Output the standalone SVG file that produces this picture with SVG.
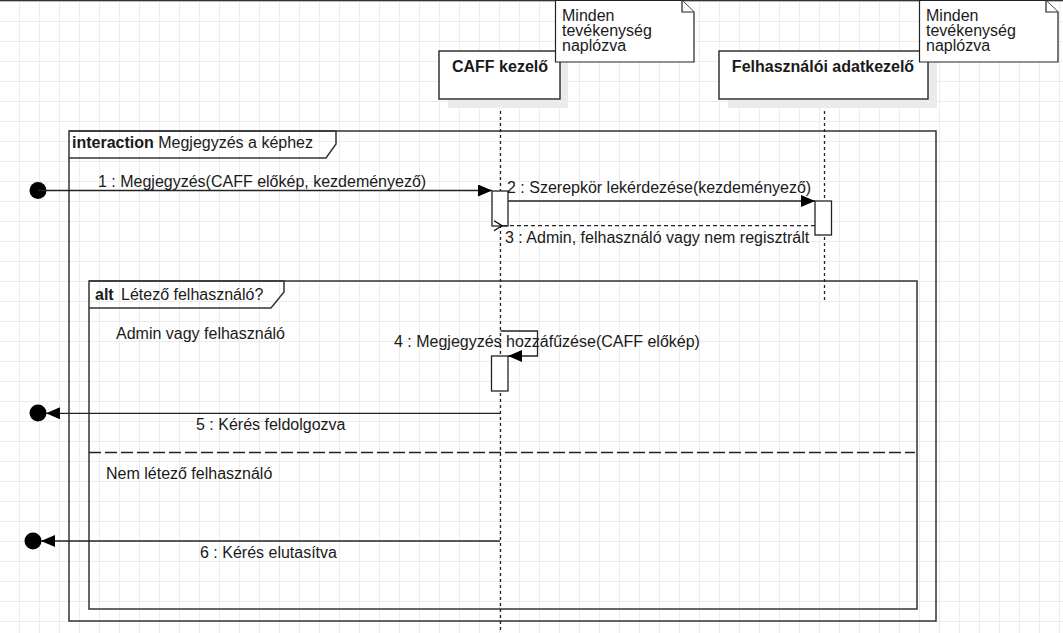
<svg xmlns="http://www.w3.org/2000/svg" width="1063" height="633" viewBox="0 0 1063 633">
<style>
text{font-family:"Liberation Sans",Arial,sans-serif;font-size:16px;fill:#1a1a1a}
.b{font-weight:bold}
.frame{fill:none;stroke:#333;stroke-width:1.5}
.box{fill:#fff;stroke:#333;stroke-width:1.5}
.shadow{fill:#ebebeb}
.life{fill:none;stroke:#222;stroke-width:1.3;stroke-dasharray:3 3}
.note{fill:#fff;stroke:#222;stroke-width:1.2}
.msg{fill:none;stroke:#222;stroke-width:1.3}
.act{fill:#fff;stroke:#222;stroke-width:1.3}
</style>
<defs>
<pattern id="grid" patternUnits="userSpaceOnUse" x="0" y="2" width="20" height="20">
<rect x="19" y="0" width="1" height="20" fill="#ececec"/>
<rect x="0" y="19" width="20" height="1" fill="#ececec"/>
</pattern>
<marker id="fill" viewBox="0 0 14 12" refX="14" refY="6" markerWidth="14" markerHeight="12" markerUnits="userSpaceOnUse" orient="auto">
<path d="M0,0 L14,6 L0,12 Z" fill="#000"/>
</marker>
<marker id="open" viewBox="0 0 10 12" refX="1" refY="6" markerWidth="10" markerHeight="12" markerUnits="userSpaceOnUse" orient="auto">
<path d="M9,1 L1,6 L9,11" fill="none" stroke="#000" stroke-width="1.2"/>
</marker>
</defs>
<rect width="1063" height="633" fill="#fff"/>
<rect width="1063" height="633" fill="url(#grid)"/>
<line x1="0" y1="0.5" x2="1063" y2="0.5" stroke="#333" stroke-width="1.5"/>

<g id="frame-interaction">
<rect class="frame" x="69" y="131" width="867" height="490"/>
<path class="frame" d="M69,131 H336 V144 L326,158 H69" fill="#fff"/>
<text x="72" y="148"><tspan class="b">interaction</tspan> Megjegyzés a képhez</text>
</g>

<g id="frame-alt">
<rect class="frame" x="89" y="281" width="828" height="328"/>
<path class="frame" d="M89,281 H284 V292 L271,308 H89" fill="#fff"/>
<text x="95" y="300"><tspan class="b">alt</tspan><tspan x="121">Létező felhasználó?</tspan></text>
<text x="116" y="339">Admin vagy felhasználó</text>
<line x1="89" y1="452.5" x2="915" y2="452.5" stroke="#222" stroke-width="1.3" stroke-dasharray="12 4"/>
<text x="106" y="479">Nem létező felhasználó</text>
</g>

<g id="caff">
<line class="life" x1="500.5" y1="99" x2="500.5" y2="633"/>
<rect class="shadow" x="448" y="60" width="120" height="48"/>
<rect class="box" x="439" y="51" width="121" height="48"/>
<text class="b" x="500" y="72" text-anchor="middle">CAFF kezelő</text>
</g>

<g id="felhasznaloi">
<line class="life" x1="824.5" y1="99" x2="824.5" y2="300"/>
<rect class="shadow" x="728" y="60" width="209" height="48"/>
<rect class="box" x="719" y="51" width="209" height="48"/>
<text class="b" x="823" y="72" text-anchor="middle">Felhasználói adatkezelő</text>
</g>

<g id="note1">
<path class="note" d="M555.5,0.5 H682 L694,12 V62 H555.5 Z"/>
<path class="note" d="M682,0.5 V12 H694" fill="none"/>
<text x="562" y="20.5">Minden</text>
<text x="562" y="35.5">tevékenység</text>
<text x="562" y="50.5">naplózva</text>
</g>

<g id="note2">
<path class="note" d="M919.5,0.5 H1046 L1058,12 V62 H919.5 Z"/>
<path class="note" d="M1046,0.5 V12 H1058" fill="none"/>
<text x="926" y="20.5">Minden</text>
<text x="926" y="35.5">tevékenység</text>
<text x="926" y="50.5">naplózva</text>
</g>

<g id="connectors">
<circle cx="38" cy="190.5" r="8.5" fill="#000"/>
<line class="msg" x1="38" y1="190.5" x2="492" y2="190.5" marker-end="url(#fill)"/>
<text x="98" y="187">1 : Megjegyzés(CAFF előkép, kezdeményező)</text>

<rect class="act" x="492" y="191" width="16" height="35"/>
<line class="msg" x1="508" y1="201" x2="815" y2="201" marker-end="url(#fill)"/>
<text x="507" y="192.5">2 : Szerepkör lekérdezése(kezdeményező)</text>

<rect class="act" x="815" y="201" width="16.5" height="34"/>
<line class="msg" x1="815" y1="225.7" x2="502" y2="225.7" stroke-dasharray="4 3" marker-end="url(#open)"/>
<text x="505" y="243">3 : Admin, felhasználó vagy nem regisztrált</text>

<path class="msg" d="M500.5,331 H537.5 V356 H508" marker-end="url(#fill)"/>
<rect class="act" x="491.5" y="356" width="16.5" height="35"/>
<text x="394" y="347">4 : Megjegyzés hozzáfűzése(CAFF előkép)</text>

<circle cx="38" cy="413" r="8.5" fill="#000"/>
<line class="msg" x1="500" y1="413.3" x2="46" y2="413.3" marker-end="url(#fill)"/>
<text x="196" y="430">5 : Kérés feldolgozva</text>

<circle cx="33" cy="541" r="8.5" fill="#000"/>
<line class="msg" x1="500" y1="541" x2="41" y2="541" marker-end="url(#fill)"/>
<text x="200" y="557.5">6 : Kérés elutasítva</text>
</g>
</svg>
